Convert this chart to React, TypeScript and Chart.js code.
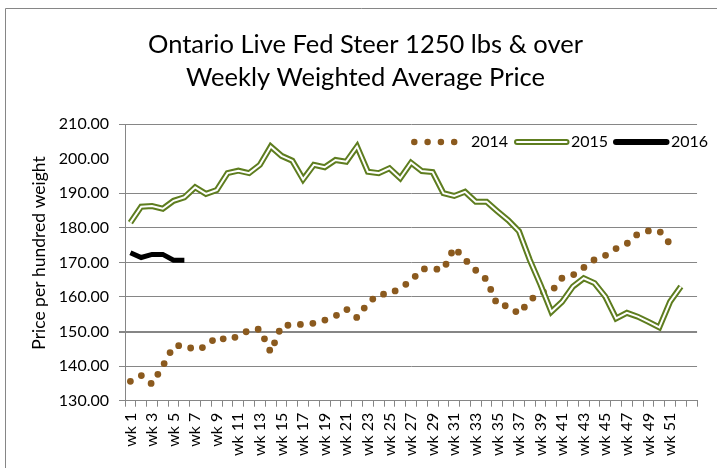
import React, { useEffect, useRef } from 'react';
import { Chart, registerables } from 'chart.js';

Chart.register(...registerables);

const weekLabels = [
  'wk 1', 'wk 2', 'wk 3', 'wk 4', 'wk 5', 'wk 6', 'wk 7', 'wk 8', 'wk 9', 'wk 10',
  'wk 11', 'wk 12', 'wk 13', 'wk 14', 'wk 15', 'wk 16', 'wk 17', 'wk 18', 'wk 19', 'wk 20',
  'wk 21', 'wk 22', 'wk 23', 'wk 24', 'wk 25', 'wk 26', 'wk 27', 'wk 28', 'wk 29', 'wk 30',
  'wk 31', 'wk 32', 'wk 33', 'wk 34', 'wk 35', 'wk 36', 'wk 37', 'wk 38', 'wk 39', 'wk 40',
  'wk 41', 'wk 42', 'wk 43', 'wk 44', 'wk 45', 'wk 46', 'wk 47', 'wk 48', 'wk 49', 'wk 50',
  'wk 51', 'wk 52', '',
];

const price2014 = [
  135.6, 137.3, 134.8, 140.0, 145.8, 146.0, 144.7, 145.7, 148.5, 147.5,
  148.7, 150.4, 150.7, 144.0, 151.7, 151.9, 152.1, 152.4, 153.3, 154.5,
  156.5, 154.0, 158.2, 160.8, 160.8, 162.6, 164.6, 168.1, 168.1, 167.9,
  174.3, 170.8, 167.7, 165.0, 157.6, 157.4, 155.1, 159.0, 161.3, 161.5,
  165.5, 166.3, 168.5, 170.8, 172.0, 174.0, 175.4, 178.2, 179.1, 179.1,
  175.3, null, null,
];

const price2015 = [
  181.5, 186.1, 186.3, 185.5, 187.8, 188.8, 191.7, 189.8, 190.9, 195.8,
  196.5, 195.8, 198.2, 203.5, 200.8, 199.4, 194.0, 198.2, 197.5, 199.6,
  199.1, 203.5, 196.2, 195.8, 197.2, 194.3, 198.8, 196.4, 196.1, 190.0,
  189.2, 190.4, 187.5, 187.5, 184.8, 182.2, 179.0, 170.7, 163.5, 155.7,
  158.6, 163.0, 165.4, 164.0, 160.1, 153.8, 155.4, 154.3, 152.8, 151.2,
  158.6, 163.0, null,
];

const price2016 = [172.8, 171.4, 172.3, 172.3, 170.6, 170.6];

const seriesNames = ['2014', '2015', '2016'];
const titleLines = ['Ontario Live Fed Steer 1250 lbs & over', 'Weekly Weighted Average Price'];
const yAxisTitle = 'Price per hundred weight';
const yMin = 130;
const yMax = 210;
const yStep = 10;

const FONT = 'Lato, "Open Sans", sans-serif';
const GRID = '#868686';
const BROWN = '#8B5A1E';
const GREEN = '#5E7D1F';
const BLACK = '#000000';

const decoPlugin = {
  id: 'deco',
  afterDraw(chart: any) {
    const ctx = chart.ctx as CanvasRenderingContext2D;
    ctx.save();
    // outer frame
    ctx.strokeStyle = GRID;
    ctx.lineWidth = 1;
    ctx.beginPath();
    ctx.moveTo(5.5, chart.height);
    ctx.lineTo(5.5, 8.5);
    ctx.lineTo(chart.width, 8.5);
    ctx.stroke();

    // title
    ctx.fillStyle = '#000';
    ctx.textAlign = 'center';
    ctx.textBaseline = 'middle';
    ctx.font = `25.5px ${FONT}`;
    ctx.fillText(titleLines[0], 365.5, 45);
    ctx.fillText(titleLines[1], 365.5, 78);

    // y axis title
    ctx.save();
    ctx.translate(39, 253);
    ctx.rotate(-Math.PI / 2);
    ctx.font = `17.5px ${FONT}`;
    ctx.fillText(yAxisTitle, 0, 0);
    ctx.restore();

    // legend
    const ly = 142;
    ctx.font = `16px ${FONT}`;
    ctx.textAlign = 'left';
    // 2014 dotted
    ctx.save();
    ctx.strokeStyle = BROWN;
    ctx.lineWidth = 6.5;
    ctx.lineCap = 'round';
    ctx.setLineDash([0, 13.3]);
    ctx.beginPath();
    ctx.moveTo(414.3, ly);
    ctx.lineTo(456, ly);
    ctx.stroke();
    ctx.restore();
    ctx.fillText(seriesNames[0], 471, ly);
    // 2015 double
    ctx.save();
    ctx.lineCap = 'round';
    ctx.strokeStyle = GREEN;
    ctx.lineWidth = 6;
    ctx.beginPath();
    ctx.moveTo(517, ly);
    ctx.lineTo(566.5, ly);
    ctx.stroke();
    ctx.strokeStyle = '#ffffff';
    ctx.lineWidth = 2;
    ctx.beginPath();
    ctx.moveTo(517, ly);
    ctx.lineTo(566.5, ly);
    ctx.stroke();
    ctx.restore();
    ctx.fillText(seriesNames[1], 571, ly);
    // 2016 black
    ctx.save();
    ctx.lineCap = 'round';
    ctx.strokeStyle = BLACK;
    ctx.lineWidth = 6;
    ctx.beginPath();
    ctx.moveTo(616, ly);
    ctx.lineTo(666.5, ly);
    ctx.stroke();
    ctx.restore();
    ctx.fillText(seriesNames[2], 671, ly);

    ctx.restore();
  },
};

export default function App() {
  const canvasRef = useRef<HTMLCanvasElement | null>(null);

  useEffect(() => {
    const canvas = canvasRef.current;
    if (!canvas) return;
    const chart = new Chart(canvas, {
      type: 'line',
      data: {
        labels: weekLabels,
        datasets: [
          {
            label: seriesNames[1] + '-inner',
            data: price2015,
            borderColor: '#ffffff',
            borderWidth: 2,
            pointRadius: 0,
            tension: 0,
            fill: false,
            order: 0,
          },
          {
            label: seriesNames[1],
            data: price2015,
            borderColor: GREEN,
            borderWidth: 6,
            pointRadius: 0,
            tension: 0,
            fill: false,
            order: 1,
          },
          {
            label: seriesNames[0],
            data: price2014,
            borderColor: BROWN,
            borderWidth: 6.8,
            borderCapStyle: 'round',
            borderDash: [0, 12.5],
            pointRadius: 0,
            tension: 0,
            fill: false,
            order: 2,
          },
          {
            label: seriesNames[2],
            data: price2016,
            borderColor: BLACK,
            borderWidth: 5,
            pointRadius: 0,
            tension: 0,
            fill: false,
            order: -1,
          },
        ],
      },
      options: {
        responsive: false,
        animation: false,
        devicePixelRatio: 1,
        layout: { padding: { left: 0, top: 124, right: 14.3, bottom: 0 } },
        plugins: {
          legend: { display: false },
          title: { display: false },
          tooltip: { enabled: false },
        },
        scales: {
          x: {
            type: 'category',
            offset: true,
            grid: {
              offset: true,
              drawOnChartArea: false,
              drawTicks: true,
              tickLength: 6,
              color: GRID,
            },
            border: { display: true, color: GRID, width: 1 },
            ticks: {
              autoSkip: false,
              maxRotation: 90,
              minRotation: 90,
              padding: 6,
              color: '#000',
              font: { family: FONT, size: 16 },
              callback: (_v: any, i: number) => (i % 2 === 0 ? weekLabels[i] : ''),
            },
            afterFit: (scale: any) => {
              scale.height = 67.3;
            },
          },
          y: {
            min: yMin,
            max: yMax,
            ticks: {
              stepSize: yStep,
              padding: 10,
              color: '#000',
              font: { family: FONT, size: 16 },
              callback: (v: any) => Number(v).toFixed(2),
            },
            grid: {
              tickLength: 6,
              color: (c: any) => (c.tick && c.tick.value === 200 ? 'rgba(0,0,0,0)' : GRID),
              lineWidth: (c: any) => (c.tick && c.tick.value === 150 ? 2 : 1),
            },
            border: { display: true, color: GRID, width: 1 },
            afterFit: (scale: any) => {
              scale.width = 125;
            },
          },
        },
      },
      plugins: [decoPlugin],
    });
    return () => chart.destroy();
  }, []);

  return (
    <div style={{ position: 'fixed', left: 0, top: 0, width: 717, height: 468, background: '#fff' }}>
      <canvas ref={canvasRef} width={717} height={468} style={{ width: 717, height: 468, display: 'block' }} />
    </div>
  );
}
